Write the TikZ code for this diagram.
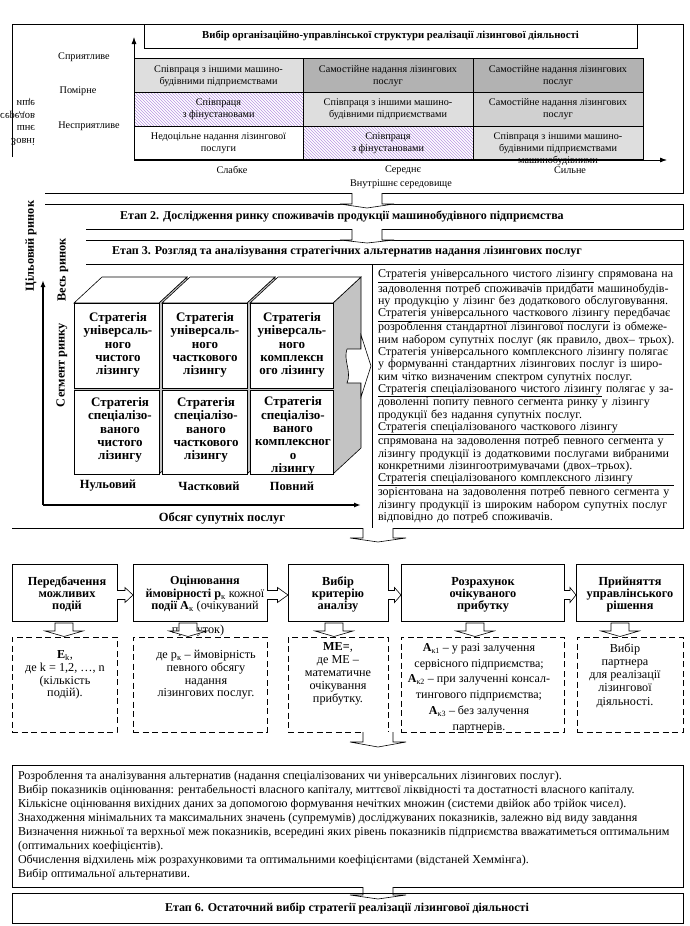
\documentclass[tikz,border=0pt]{standalone}
\usepackage{fontspec}
\setmainfont{Liberation Serif}
\usetikzlibrary{patterns,arrows.meta}
\definecolor{lgc}{RGB}{222,222,222}
\definecolor{mgc}{RGB}{208,208,208}
\definecolor{dgc}{RGB}{178,178,178}
\definecolor{hatchc}{RGB}{185,150,228}
\definecolor{sidec}{RGB}{195,195,195}
\newcommand{\fs}[2]{\fontsize{#1}{#2}\selectfont}
\newcommand{\jl}[1]{\makebox[\linewidth][s]{#1}}
\newcommand{\dnarr}[6]{\draw[fill=white] (#1-#2,#4) -- (#1-#2,#5) -- (#1-#3,#5) -- (#1,#6) -- (#1+#3,#5) -- (#1+#2,#5) -- (#1+#2,#4);}
\newcommand{\smarr}[1]{\draw[fill=white] (#1-9,623) -- (#1-9,631) -- (#1-19,631) -- (#1,636.5) -- (#1+19,631) -- (#1+9,631) -- (#1+9,623) -- cycle;}
\newcommand{\rtarr}[3]{\draw[fill=white] (#1,#3-4.5) -- ({(#1+#2)/2},#3-4.5) -- ({(#1+#2)/2},#3-7.5) -- (#2,#3) -- ({(#1+#2)/2},#3+7.5) -- ({(#1+#2)/2},#3+4.5) -- (#1,#3+4.5);}
\newcommand{\cubecol}[2]{%
  \fill[sidec] (#2,303) -- (#2+28,277) -- (#2+28,448) -- (#2,474) -- cycle;
  \draw (#2,303) -- (#2+28,277) -- (#2+28,448) -- (#2,474);
  \draw[fill=white] (#1,303) -- (#1+28,277) -- (#2+28,277) -- (#2,303) -- cycle;
  \fill[sidec] (#1,388) rectangle (#2,390);
  \draw[fill=white] (#1,303) rectangle (#2,388);
  \draw[fill=white] (#1,390) rectangle (#2,474);}
\begin{document}
\begin{tikzpicture}[x=1pt,y=-1pt,line width=0.6pt,
  every node/.style={inner sep=0pt,outer sep=0pt},
  cell/.style={align=center,font=\fs{10.2}{12}},
  lab/.style={align=center,font=\fs{10.2}{12}},
  ttl/.style={font=\bfseries\fs{12}{13}},
  cubetxt/.style={align=center,font=\bfseries\fs{13}{13.4}},
  sbox/.style={draw,fill=white},
  dbox/.style={draw,dash pattern=on 6pt off 3.5pt},
  btxt/.style={align=center,font=\bfseries\fs{12.3}{12}},
  dtxt/.style={align=center,font=\fs{12.2}{12.6}},
  axisarrow/.style={line width=1.4pt,-{Latex[length=7pt,width=5pt]}},
  thinarrow/.style={line width=0.8pt,-{Latex[length=7pt,width=5pt]}},
]
\useasboundingbox (0,0) rectangle (689,926);
\fill[white] (0,0) rectangle (689,926);

% ---------------- Stage 1 ----------------
\draw (12,157) -- (12,24) -- (683,24) -- (683,193) -- (45,193);
\node[draw,fill=white,minimum width=493pt,minimum height=24pt,font=\bfseries\fs{10.7}{12}] (title1) at (390.5,36) {Вибір організаційно-управлінської структури реалізації лізингової діяльності};

\fill[lgc] (134,58) rectangle (303,92);
\fill[dgc] (303,58) rectangle (643,92);
\fill[pattern=north west lines,pattern color=hatchc] (134,92) rectangle (303,126);
\fill[lgc] (303,92) rectangle (473,126);
\fill[mgc] (473,92) rectangle (643,126);
\fill[pattern=north west lines,pattern color=hatchc] (303,126) rectangle (473,159);
\fill[lgc] (473,126) rectangle (643,159);
\draw (134,58) rectangle (643,159);
\draw (303,58) -- (303,159) (473,58) -- (473,159);
\draw (134,92) -- (643,92) (134,126) -- (643,126);

\node[cell] (r1c1) at (218.5,76) {Співпраця з іншими машино-\\будівними підприємствами};
\node[cell] (r1c2) at (388,76) {Самостійне надання лізингових\\послуг};
\node[cell] (r1c3) at (558,76) {Самостійне надання лізингових\\послуг};
\node[cell] (r2c1) at (218.5,109) {Співпраця\\з фінустановами};
\node[cell] (r2c2) at (388,109) {Співпраця з іншими машино-\\будівними підприємствами};
\node[cell] (r2c3) at (558,109) {Самостійне надання лізингових\\послуг};
\node[cell] (r3c1) at (218.5,143) {Недоцільне надання лізингової\\послуги};
\node[cell] (r3c2) at (388,143) {Співпраця\\з фінустановами};
\node[cell] (r3c3) at (558,149.5) {Співпраця з іншими машино-\\будівними підприємствами\\машинобудівними};

\coordinate (o1) at (134,160);
\coordinate (ytop) at (134,37);
\coordinate (xend) at (667,160);
\draw[thinarrow] (o1) -- (ytop);
\draw[thinarrow] (o1) -- (xend);

\node[lab] (l1) at (84,57) {Сприятливе};
\node[lab] (l2) at (78,91) {Помірне};
\node[lab] (l3) at (89,126) {Несприятливе};
\node[yscale=-1,transform shape,anchor=east,align=right,font=\fs{10.5}{12.5}] (zovn) at (35,122) {Зовні\\шнє\\середов\\ище};
\node[lab] (c1) at (232,170) {Слабке};
\node[lab] (c2) at (403,170) {Середнє};
\node[lab] (c3) at (570,170) {Сильне};
\node[lab] (c4) at (401,184) {Внутрішнє середовище};

% ---------------- Stage 2 ----------------
\draw (45,204) -- (683,204) -- (683,229) -- (86,229);
\node[ttl] (st2) at (342,216.5) {Етап 2. Дослідження ринку споживачів продукції машинобудівного підприємства};
\dnarr{367}{15}{27}{193}{204}{208}

% ---------------- Stage 3 ----------------
\draw (86,240) -- (683,240) -- (683,528) -- (12,528);
\draw (86,264) -- (683,264);
\draw (372,264) -- (372,528);
\node[ttl] (st3) at (347,252) {Етап 3. Розгляд та аналізування стратегічних альтернатив надання лізингових послуг};
\dnarr{367}{15}{27}{229}{240}{243}

\node[rotate=90,font=\bfseries\fs{12.3}{14}] (tsr) at (31,246) {Цільовий ринок};
\node[rotate=90,font=\bfseries\fs{12.3}{14}] (vr) at (63,270) {Весь ринок};
\node[rotate=90,font=\bfseries\fs{12.3}{14}] (sr) at (62,365) {Сегмент ринку};

\cubecol{74}{159}
\cubecol{162}{247}
\cubecol{250}{333}

\node[cubetxt] (k11) at (118,345) {Стратегія\\універсаль-\\ного\\чистого\\лізингу};
\node[cubetxt] (k12) at (205,345) {Стратегія\\універсаль-\\ного\\часткового\\лізингу};
\node[cubetxt] (k13) at (292,345) {Стратегія\\універсаль-\\ного\\комплексн\\ого лізингу};
\node[cubetxt] (k21) at (120,430) {Стратегія\\спеціалізо-\\ваного\\чистого\\лізингу};
\node[cubetxt] (k22) at (206,430) {Стратегія\\спеціалізо-\\ваного\\часткового\\лізингу};
\node[cubetxt] (k23) at (293,436) {Стратегія\\спеціалізо-\\ваного\\комплексног\\о\\лізингу};

\node[font=\bfseries\fs{12.5}{14}] (n1) at (108,486) {Нульовий};
\node[font=\bfseries\fs{12.5}{14}] (n2) at (209,486) {Частковий};
\node[font=\bfseries\fs{12.5}{14}] (n3) at (292,486) {Повний};

\coordinate (o2) at (43,505);
\coordinate (y2top) at (43,280);
\coordinate (x2end) at (361,505);
\draw[axisarrow] (o2) -- (y2top);
\draw[axisarrow] (o2) -- (x2end);
\node[font=\bfseries\fs{12.5}{14}] (obs) at (222,518) {Обсяг супутніх послуг};

\draw[fill=white] (347,349) -- (361,349) -- (361,335) -- (371,366) -- (361,397) -- (361,383) -- (347,383) .. controls (352,372) and (343,360) .. (347,349);

\node[anchor=north west,text width=296pt,align=left,font=\fs{12}{12.3}] (rt) at (378,270) {%
\jl{\underline{Стратегія універсального чистого лізингу} спрямована на}\\
\jl{задоволення потреб споживачів придбати машинобудів-}\\
ну продукцію у лізинг без додаткового обслуговування.\\
\jl{\underline{Стратегія універсального часткового лізингу} передбачає}\\
\jl{розроблення стандартної лізингової послуги із обмеже-}\\
\jl{ним набором супутніх послуг (як правило, двох– трьох).}\\
\jl{Стратегія універсального комплексного лізингу полягає}\\
\jl{у формуванні стандартних лізингових послуг із широ-}\\
ким чітко визначеним спектром супутніх послуг.\\
\jl{\underline{Стратегія спеціалізованого чистого лізингу} полягає у за-}\\
\jl{доволенні попиту певного сегмента ринку у лізингу}\\
продукції без надання супутніх послуг.\\
\underline{\jl{Стратегія спеціалізованого часткового лізингу}}\\
\jl{спрямована на задоволення потреб певного сегмента у}\\
\jl{лізингу продукції із додатковими послугами вибраними}\\
конкретними лізингоотримувачами (двох–трьох).\\
\underline{\jl{Стратегія спеціалізованого комплексного лізингу}}\\
\jl{зорієнтована на задоволення потреб певного сегмента у}\\
\jl{лізингу продукції із широким набором супутніх послуг}\\
відповідно до потреб споживачів.};

\dnarr{378}{15}{28}{528}{538}{542}

% ---------------- Stage 4 ----------------
\node[sbox,minimum width=105pt,minimum height=57pt] (b1) at (64.5,592.5) {};
\node[sbox,minimum width=134pt,minimum height=57pt] (b2) at (200,592.5) {};
\node[sbox,minimum width=100pt,minimum height=57pt] (b3) at (338,592.5) {};
\node[sbox,minimum width=163pt,minimum height=57pt] (b4) at (482.5,592.5) {};
\node[sbox,minimum width=107pt,minimum height=57pt] (b5) at (629.5,592.5) {};
\rtarr{117}{133}{595}
\rtarr{267}{288}{595}
\rtarr{388}{401}{595}
\rtarr{564}{576}{595}

\node[btxt] (t1) at (67,594) {Передбачення\\можливих\\подій};
\node[align=center,font=\fs{12.2}{12.5}] (t2) at (205,594.5) {\textbf{Оцінювання}\\\textbf{ймовірності p}\textsubscript{к} кожної\\\textbf{події A}\textsubscript{к} (очікуваний};
\node[font=\fs{12.2}{12.5}] (t2b) at (198,630) {прибуток)};
\node[btxt] (t3) at (338,594) {Вибір\\критерію\\аналізу};
\node[btxt] (t4) at (483,595) {Розрахунок\\очікуваного\\прибутку};
\node[btxt] (t5) at (630,595) {Прийняття\\управлінського\\рішення};

\node[dbox,minimum width=105pt,minimum height=95pt] (d1) at (64.5,684.5) {};
\node[dbox,minimum width=134pt,minimum height=95pt] (d2) at (200,684.5) {};
\node[dbox,minimum width=100pt,minimum height=95pt] (d3) at (338,684.5) {};
\node[dbox,minimum width=163pt,minimum height=95pt] (d4) at (482.5,684.5) {};
\node[dbox,minimum width=106pt,minimum height=95pt] (d5) at (630,684.5) {};

\smarr{64}
\smarr{188}
\smarr{334}
\smarr{475}
\smarr{620}

\node[dtxt] (e1) at (65,675) {\textbf{E}\textsubscript{k},\\де k = 1,2, …, n\\(кількість\\подій).};
\node[dtxt] (e2) at (206,675) {де p\textsubscript{к} – ймовірність\\певного обсягу\\надання\\лізингових послуг.};
\node[align=center,font=\fs{12.2}{13}] (e3) at (338,674) {\textbf{МЕ=},\\де МЕ –\\математичне\\очікування\\прибутку.};
\node[align=center,font=\fs{12}{15.8}] (e4) at (479,688) {\textbf{A}\textsubscript{к1} – у разі залучення\\сервісного підприємства;\\\textbf{A}\textsubscript{к2} – при залученні консал-\\тингового підприємства;\\\textbf{A}\textsubscript{к3} – без залучення\\партнерів.};
\node[align=center,font=\fs{12.2}{13.2}] (e5) at (625,675.5) {Вибір\\партнера\\для реалізації\\лізингової\\діяльності.};

\dnarr{378}{15}{28}{732}{742}{747}

% ---------------- Stage 5 ----------------
\node[draw,minimum width=671pt,minimum height=122pt,anchor=north west] (alt) at (12,765) {};
\node[anchor=north west,align=left,font=\fs{12.05}{14}] (altt) at (18,771) {Розроблення та аналізування альтернатив (надання спеціалізованих чи універсальних лізингових послуг).\\
Вибір показників оцінювання: рентабельності власного капіталу, миттєвої ліквідності та достатності власного капіталу.\\
Кількісне оцінювання вихідних даних за допомогою формування нечітких множин (системи двійок або трійок чисел).\\
Знаходження мінімальних та максимальних значень (супремумів) досліджуваних показників, залежно від виду завдання\\
Визначення нижньої та верхньої меж показників, всередині яких рівень показників підприємства вважатиметься оптимальним\\
(оптимальних коефіцієнтів).\\
Обчислення відхилень між розрахунковими та оптимальними коефіцієнтами (відстаней Хеммінга).\\
Вибір оптимальної альтернативи.};

\dnarr{378}{15}{28}{887}{895}{899}

% ---------------- Stage 6 ----------------
\node[draw,minimum width=671pt,minimum height=30pt,anchor=north west] (st6box) at (12,893) {};
\node[ttl] (st6) at (347,908) {Етап 6. Остаточний вибір стратегії реалізації лізингової діяльності};
\end{tikzpicture}
\end{document}
